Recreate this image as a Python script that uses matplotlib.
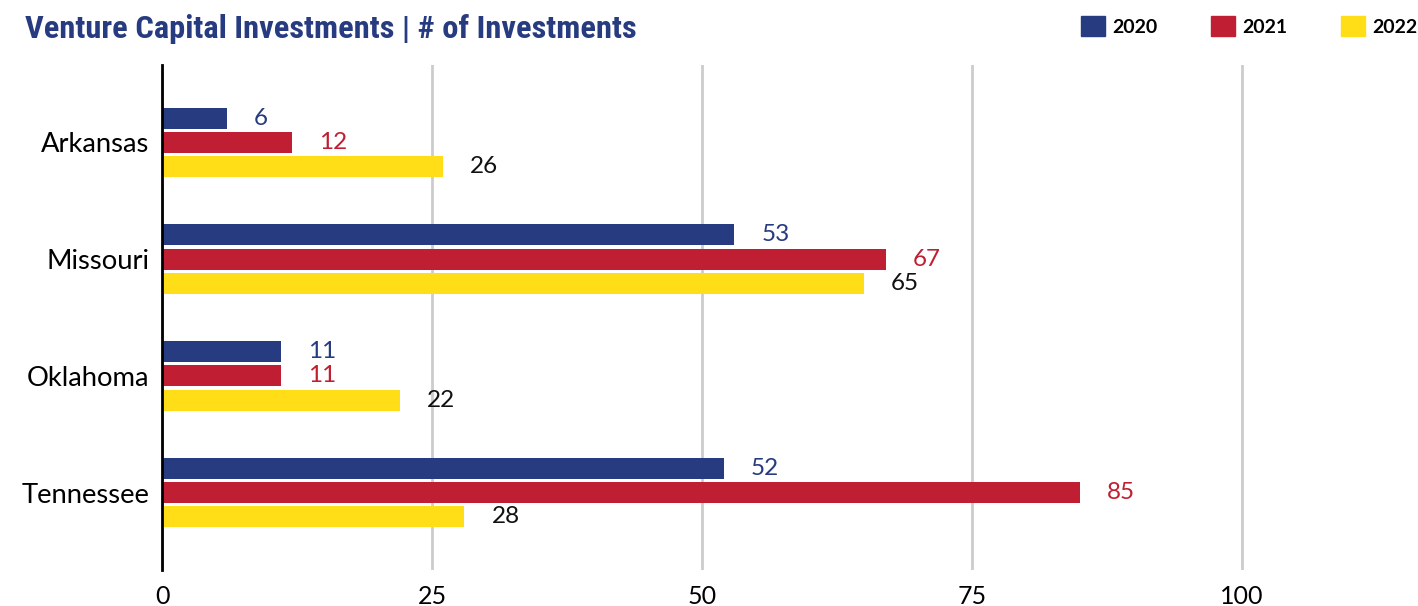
import matplotlib
matplotlib.use("Agg")
import matplotlib.pyplot as plt
import numpy as np
from matplotlib.patches import Patch

states = ["Arkansas", "Missouri", "Oklahoma", "Tennessee"]
years = ["2020", "2021", "2022"]
v2020 = [6, 53, 11, 52]
v2021 = [12, 67, 11, 85]
v2022 = [26, 65, 22, 28]
xticks = [0, 25, 50, 75, 100]

colors = ["#273B80", "#C01F33", "#FFDD17"]
label_colors = ["#273B80", "#C01F33", "#111111"]

plt.rcParams["font.family"] = ["Lato", "DejaVu Sans"]

W, H = 1418, 606
fig = plt.figure(figsize=(W / 100, H / 100), dpi=100)
ax = fig.add_axes([162 / W, (H - 570) / H, 1242 / W, 505 / H])

y = np.arange(len(states))
bh = 0.18
step = 0.208
series = [v2020, v2021, v2022]
for i, (vals, c, lc) in enumerate(zip(series, colors, label_colors)):
    pos = y + (i - 1) * step
    bars = ax.barh(pos, vals, height=bh, color=c, label=years[i], zorder=3)
    for b, v in zip(bars, vals):
        ax.annotate(str(v), (b.get_width(), b.get_y() + b.get_height() / 2),
                    xytext=(19.5, 0), textcoords="offset points",
                    ha="left", va="center", fontsize=17.5, color=lc)

ax.set_xlim(0, 115)
ax.set_ylim(3.664, -0.664)
ax.set_yticks(y)
ax.set_yticklabels(states, fontsize=19.7)
ax.set_xticks(xticks)
ax.set_xticklabels([str(t) for t in xticks], fontsize=18)
ax.tick_params(axis="both", length=0, colors="black")
ax.tick_params(axis="y", pad=9)
ax.tick_params(axis="x", pad=11)
ax.grid(axis="x", color="#cccccc", linewidth=2, zorder=0)
for s in ["top", "right", "bottom"]:
    ax.spines[s].set_visible(False)
ax.spines["left"].set_linewidth(2)
ax.spines["left"].set_color("black")
ax.spines["left"].set_zorder(4)

title = fig.text(25 / W, 1 - 38 / H, "Venture Capital Investments | # of Investments",
                 fontsize=26, fontweight="bold", color="#273B80",
                 family=["Roboto Condensed", "Roboto", "DejaVu Sans"],
                 va="baseline", ha="left")
# fit title width to reference span
fig.canvas.draw()
bb = title.get_window_extent()
title.set_fontsize(26 * 612 / bb.width)

handles = [Patch(color=c, label=yr) for c, yr in zip(colors, years)]
fig.legend(handles=handles, loc="center left", bbox_to_anchor=(1081 / W, 1 - 26 / H),
           ncol=3, frameon=False, prop={"family": "Lato", "weight": "bold", "size": 14},
           handlelength=1.25, handleheight=1.25, handletextpad=0.36, columnspacing=2.75,
           borderaxespad=0, borderpad=0)

fig.savefig("out.png", dpi=100)
